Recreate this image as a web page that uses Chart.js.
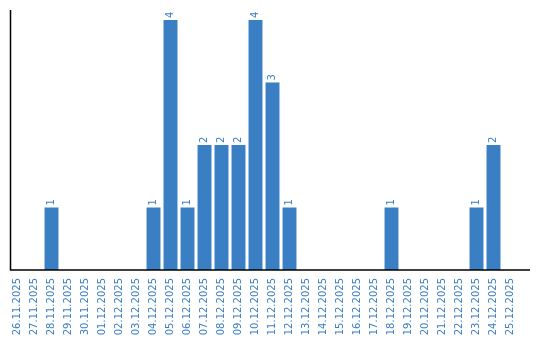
<!DOCTYPE html>
<html>
<head>
<meta charset="utf-8">
<script src="https://cdn.jsdelivr.net/npm/chart.js@4"></script>
<style>
  body { margin: 0; background: #fff; }
  #wrap { width: 540px; height: 340px; }
</style>
</head>
<body>
<div id="wrap"><canvas id="barChart"></canvas></div>
<script>
// dates et valeurs
const dates = [
  '26.11.2025', '27.11.2025', '28.11.2025', '29.11.2025', '30.11.2025',
  '01.12.2025', '02.12.2025', '03.12.2025', '04.12.2025', '05.12.2025',
  '06.12.2025', '07.12.2025', '08.12.2025', '09.12.2025', '10.12.2025',
  '11.12.2025', '12.12.2025', '13.12.2025', '14.12.2025', '15.12.2025',
  '16.12.2025', '17.12.2025', '18.12.2025', '19.12.2025', '20.12.2025',
  '21.12.2025', '22.12.2025', '23.12.2025', '24.12.2025', '25.12.2025'
];
const counts = [
  0, 0, 1, 0, 0,
  0, 0, 0, 1, 4,
  1, 2, 2, 2, 4,
  3, 1, 0, 0, 0,
  0, 0, 1, 0, 0,
  0, 0, 1, 2, 0
];

const blue = '#3a7ec3';

// étiquettes verticales au-dessus des barres + axes
const barLabels = {
  id: 'barLabels',
  afterDatasetsDraw(chart) {
    const ctx = chart.ctx;
    const meta = chart.getDatasetMeta(0);
    ctx.save();
    ctx.fillStyle = blue;
    ctx.font = '10px "DejaVu Sans", sans-serif';
    ctx.textAlign = 'left';
    ctx.textBaseline = 'middle';
    meta.data.forEach((bar, i) => {
      if (!counts[i]) return;
      ctx.save();
      ctx.translate(bar.x, bar.y - 2);
      ctx.rotate(-Math.PI / 2);
      ctx.fillText(String(counts[i]), 0, 0);
      ctx.restore();
    });
    const a = chart.chartArea;
    ctx.strokeStyle = '#000';
    ctx.lineWidth = 1.5;
    ctx.beginPath();
    ctx.moveTo(10.5, a.top);
    ctx.lineTo(10.5, a.bottom);
    ctx.lineTo(a.right + 11, a.bottom);
    ctx.stroke();
    ctx.restore();
  }
};

const ctx = document.getElementById('barChart').getContext('2d');
new Chart(ctx, {
  type: 'bar',
  data: {
    labels: dates,
    datasets: [{
      data: counts,
      backgroundColor: blue,
      borderWidth: 0,
      barPercentage: 0.82,
      categoryPercentage: 1
    }]
  },
  options: {
    responsive: true,
    maintainAspectRatio: false,
    animation: false,
    layout: { padding: { left: 9, top: 10, right: 21, bottom: 0 } },
    plugins: { legend: { display: false }, tooltip: { enabled: false } },
    scales: {
      x: {
        grid: { display: false },
        border: { display: false },
        afterFit: (scale) => { scale.height = 70; },
        ticks: {
          autoSkip: false,
          minRotation: 90,
          maxRotation: 90,
          padding: 0,
          color: blue,
          font: { family: '"DejaVu Sans", sans-serif', size: 10 }
        }
      },
      y: {
        display: false,
        min: 0,
        max: 4.16
      }
    }
  },
  plugins: [barLabels]
});
</script>
</body>
</html>
